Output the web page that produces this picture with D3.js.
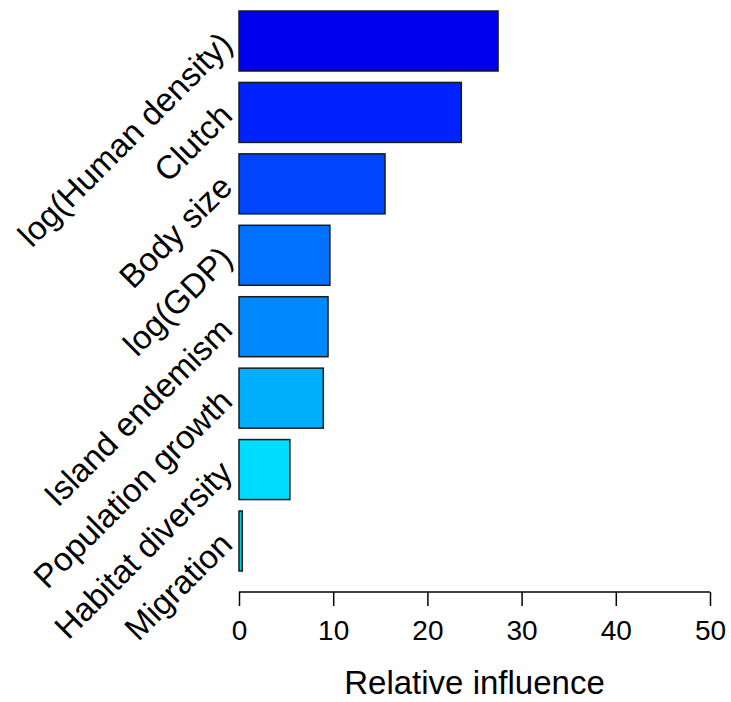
<!DOCTYPE html>
<html>
<head>
<meta charset="utf-8">
<script src="https://cdn.jsdelivr.net/npm/d3@7"></script>
<style>
  html, body { margin: 0; padding: 0; background: #fff; }
  svg { display: block; font-family: "Liberation Sans", Arial, sans-serif; }
</style>
</head>
<body>
<svg id="chart" width="731" height="702"></svg>
<script>
// Predictors, ordered from most to least influential
const predictors = [
  "log(Human density)", "Clutch", "Body size", "log(GDP)",
  "Island endemism", "Population growth", "Habitat diversity", "Migration"
];
// Relative influence (%) of each predictor
const influence = [27.5, 23.6, 15.5, 9.65, 9.45, 8.95, 5.4, 0.35];
// Bar fill colours
const barColors = [
  "#0000ee", "#0022ff", "#0044ff", "#0070ff",
  "#0088ff", "#00b0ff", "#00dcff", "#00cdd6"
];
const xTicks = [0, 10, 20, 30, 40, 50];
const xTitle = "Relative influence";

const svg = d3.select("#chart");

const x = d3.scaleLinear().domain([0, 50]).range([239, 710]);
const y = d3.scaleBand().domain(predictors).range([11, 571]).paddingInner(0.16).paddingOuter(0);

const rows = predictors.map((p, i) => ({ name: p, value: influence[i], color: barColors[i] }));

// Bars
svg.append("g").selectAll("rect").data(rows).join("rect")
  .attr("x", x(0))
  .attr("y", d => y(d.name))
  .attr("width", d => x(d.value) - x(0))
  .attr("height", y.bandwidth())
  .attr("fill", d => d.color)
  .attr("stroke", "#1a1a1a")
  .attr("stroke-width", 1.5);

// Category labels, rotated 45 degrees
svg.append("g").selectAll("text").data(rows).join("text")
  .attr("transform", d => `translate(226,${y(d.name) + y.bandwidth() / 2 - 3}) rotate(-45)`)
  .attr("text-anchor", "end")
  .attr("dy", "0.35em")
  .attr("font-size", 33)
  .attr("fill", "#000")
  .text(d => d.name);

// X axis
const axis = d3.axisBottom(x).tickValues(xTicks).tickSize(14).tickPadding(14).tickFormat(d3.format("d"));
const gx = svg.append("g").attr("transform", "translate(0,592)").call(axis);
gx.select(".domain").attr("stroke", "#000").attr("stroke-width", 1.5)
  .attr("d", `M${x(0)},0H${x(50)}`);
gx.selectAll(".tick line").attr("stroke", "#000").attr("stroke-width", 1.5);
gx.selectAll(".tick text").attr("font-size", 28).attr("fill", "#000")
  .attr("font-family", "'Liberation Sans', Arial, sans-serif");

// Axis title
svg.append("text")
  .attr("x", (x(0) + x(50)) / 2)
  .attr("y", 694)
  .attr("text-anchor", "middle")
  .attr("font-size", 33)
  .attr("fill", "#000")
  .text(xTitle);
</script>
</body>
</html>
